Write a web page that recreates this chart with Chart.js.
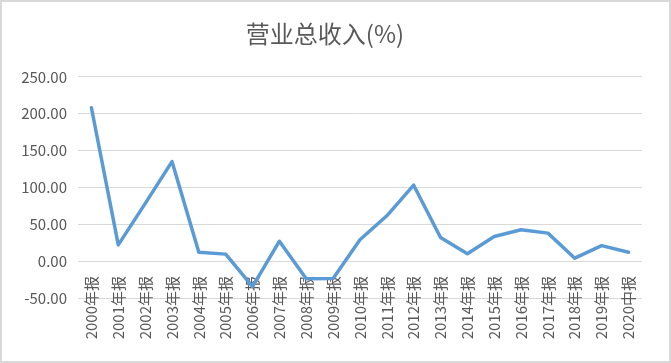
<!DOCTYPE html>
<html lang="zh">
<head>
  <meta charset="UTF-8">
  <title>营业总收入(%)</title>
  <script src="https://cdn.jsdelivr.net/npm/chart.js"></script>
  <style>
    body {
      margin: 0;
      background: #ffffff;
    }

    #box {
      width: 671px;
      height: 363px;
      box-sizing: border-box;
      border: 2px solid #d9d9d9;
      background: #ffffff;
    }
  </style>
</head>
<body>

  <div id="box">
    <canvas id="revChart" width="667" height="359"></canvas>
  </div>

  <script>
    // 报告期
    const periods = [
      '2000年报', '2001年报', '2002年报', '2003年报', '2004年报', '2005年报', '2006年报',
      '2007年报', '2008年报', '2009年报', '2010年报', '2011年报', '2012年报', '2013年报',
      '2014年报', '2015年报', '2016年报', '2017年报', '2018年报', '2019年报', '2020中报'
    ];

    // 营业总收入同比增长 (%)
    const growth = [
      208, 22, 78, 135, 12, 9.5, -34.5,
      27, -24, -23.5, 29, 61.5, 103, 32,
      10, 33.5, 42.5, 38, 4, 21, 12
    ];

    const yTicks = [-50, 0, 50, 100, 150, 200, 250];

    const font = "'Noto Sans CJK SC', 'Noto Sans', sans-serif";
    const grey = '#595959';

    const ctx = document.getElementById('revChart').getContext('2d');

    const chart = new Chart(ctx, {
      type: 'line',
      data: {
        labels: periods,
        datasets: [{
          label: '营业总收入(%)',
          data: growth,
          borderColor: '#5b9bd5',
          borderWidth: 3.5,
          borderJoinStyle: 'round',
          borderCapStyle: 'round',
          pointRadius: 0,
          tension: 0,
          fill: false
        }]
      },
      options: {
        responsive: false,
        animation: false,
        layout: {
          padding: { left: 0, right: 21, top: 0, bottom: 0 }
        },
        plugins: {
          legend: { display: false },
          tooltip: { enabled: false },
          title: {
            display: true,
            text: '营业总收入(%)',
            color: grey,
            font: { family: font, size: 24, weight: 'normal' },
            padding: { top: 17, bottom: 29 }
          }
        },
        scales: {
          x: {
            offset: true,
            grid: { display: false, drawTicks: false },
            border: { display: true, color: '#d9d9d9', width: 1 },
            ticks: {
              color: grey,
              font: { family: font, size: 15 },
              minRotation: 90,
              maxRotation: 90,
              autoSkip: false,
              // labels sit across the axis line like the Excel original;
              // mirror avoids the label clip, labelOffset undoes its sideways shift
              mirror: true,
              padding: 22,
              labelOffset: 18
            },
            afterFit: (scale) => { scale.height = 63; }
          },
          y: {
            min: -50,
            max: 250,
            afterBuildTicks: (scale) => {
              scale.ticks = yTicks.map(v => ({ value: v }));
            },
            grid: { color: '#d9d9d9', lineWidth: 1, drawTicks: false },
            border: { display: false },
            ticks: {
              color: grey,
              font: { family: font, size: 15 },
              padding: 11,
              callback: (v) => Number(v).toFixed(2)
            },
            afterFit: (scale) => { scale.width = 76; }
          }
        }
      }
    });
  </script>
</body>
</html>
